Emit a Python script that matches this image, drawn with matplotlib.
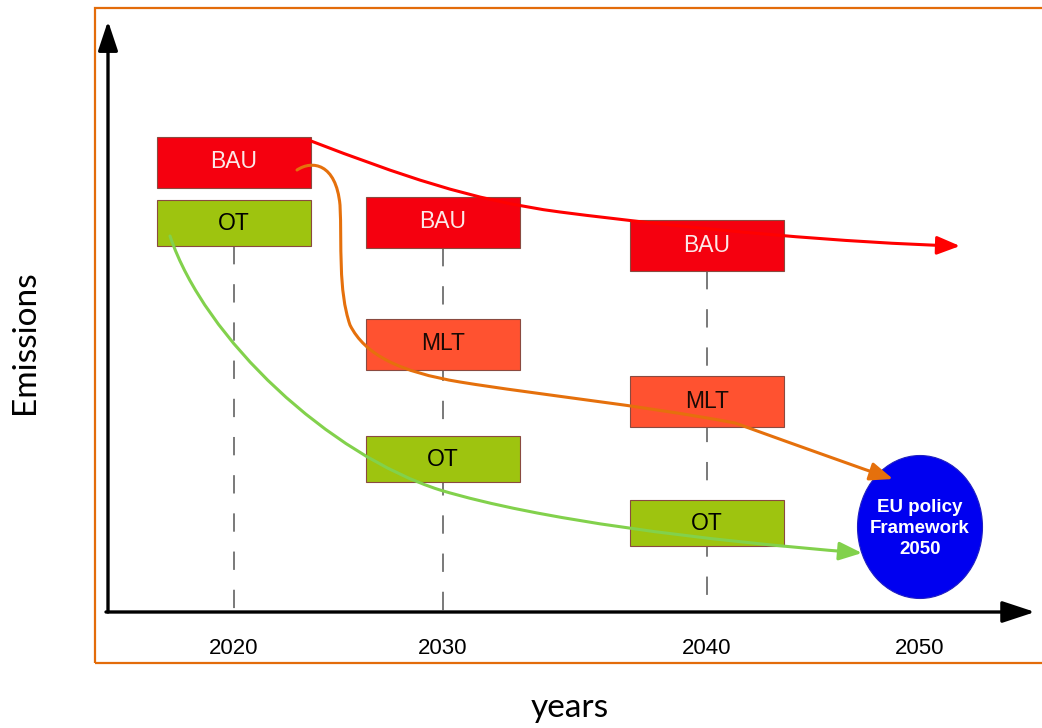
import matplotlib.pyplot as plt
from matplotlib.patches import Rectangle, Ellipse, FancyArrowPatch
from matplotlib.path import Path

# Scenario levels (emission index, 0 = x axis) at each milestone year
years = ["2020", "2030", "2040", "2050"]
year_x = [234, 443, 707, 920]
bau = [90.0, 78.0, 73.2]
mlt = [None, 53.6, 42.2]
ot = [77.8, 30.6, 17.8]
eu_target = 17.0
eu_label = "EU policy\nFramework\n2050"

# Trajectory curves (bezier control points: x, emission index)
red_path = [(311, 94.2), (400, 87.4), (470, 82.4), (560, 80.0),
            (700, 76.4), (850, 73.8), (960, 73.2)]
orange_path = [(297, 88.4), (312, 90.4), (336, 89.8), (340, 81.4),
               (342, 73.4), (338, 64.4), (350, 57.4),
               (365, 51.4), (400, 48.0), (460, 46.0),
               (540, 43.4), (640, 41.4), (735, 37.8),
               (810, 32.4), (860, 28.8), (893, 26.6)]
green_path = [(170, 75.2), (205, 54.4), (330, 31.4), (440, 24.4),
              (540, 18.4), (700, 14.4), (862, 11.8)]

box_w = 154
box_h = 10.2
ot_h = 9.2

fig = plt.figure(figsize=(10.42, 7.28), dpi=100)
ax = fig.add_axes([0, 0, 1, 1])
ax.set_xlim(0, 1042)
ax.set_ylim(-23.2, 122.4)
ax.axis("off")

# orange frame around the plot area
fig.patches.append(Rectangle((95 / 1042, 65 / 728), 0.96, 655 / 728,
                             transform=fig.transFigure, fill=False,
                             edgecolor="#e36c0a", lw=1.6, zorder=0))

# axes with arrows
arrow_kw = dict(color="black", lw=2.4, shrinkA=0, shrinkB=0)
ax.annotate("", xy=(108, 118.2), xytext=(108, 0),
            arrowprops=dict(arrowstyle="-|>,head_length=0.9,head_width=0.3",
                            mutation_scale=20, **arrow_kw))
ax.annotate("", xy=(1035, 0), xytext=(106, 0),
            arrowprops=dict(arrowstyle="-|>,head_length=1.0,head_width=0.33",
                            mutation_scale=20, **arrow_kw))

# dashed milestone lines (2020 starts below the OT box, others below BAU)
line_top = [ot[0] - ot_h / 2, bau[1] - box_h / 2, bau[2] - box_h / 2]
for i in range(3):
    ax.plot([year_x[i], year_x[i]], [line_top[i], 0], color="#555555",
            lw=1.1, dashes=(12, 13), zorder=1)


def box(x, y, h, color, label, txtcolor):
    ax.add_patch(Rectangle((x - box_w / 2, y - h / 2), box_w, h,
                           facecolor=color, edgecolor="#8a4a40", lw=0.8, zorder=2))
    ax.text(x, y, label, ha="center", va="center", color=txtcolor,
            fontsize=16.5, family=["Liberation Sans", "DejaVu Sans"], zorder=3)


for i in range(3):
    box(year_x[i], bau[i], box_h, "#f5000f", "BAU", "#fbe8e8")
    box(year_x[i], ot[i], ot_h, "#9ec40f", "OT", "black")
    if mlt[i] is not None:
        box(year_x[i], mlt[i], box_h, "#ff5230", "MLT", "#1a0a05")

# EU policy target ellipse
ax.add_patch(Ellipse((year_x[3], eu_target), 125, 28.6, facecolor="#0000f0",
                     edgecolor="#2020c0", lw=0.8, zorder=2))
ax.text(year_x[3], eu_target - 0.3, eu_label, ha="center", va="center",
        color="white", fontsize=13.5, fontweight="bold", linespacing=1.3,
        family=["Liberation Sans", "DejaVu Sans"], zorder=3)


def curve(pts, color):
    codes = [Path.MOVETO] + [Path.CURVE4] * (len(pts) - 1)
    arr = FancyArrowPatch(path=Path(pts, codes),
                          arrowstyle="-|>,head_length=0.7,head_width=0.28",
                          mutation_scale=20, color=color, lw=2.2, zorder=4)
    ax.add_patch(arr)


curve(red_path, "#ff0000")
curve(orange_path, "#e5700c")
curve(green_path, "#82d14c")

# year labels
for x, lab in zip(year_x, years):
    ax.text(x, -7.2, lab, ha="center", va="center", fontsize=16,
            family=["Liberation Sans Narrow", "Liberation Sans", "DejaVu Sans"])

ax.text(25, 54, "Emissions", rotation=90, ha="center", va="center",
        fontsize=24, family=["Lato", "DejaVu Sans"])
ax.text(570, -19.2, "years", ha="center", va="center",
        fontsize=24, family=["Lato", "DejaVu Sans"])

fig.savefig("out.png", dpi=100)
